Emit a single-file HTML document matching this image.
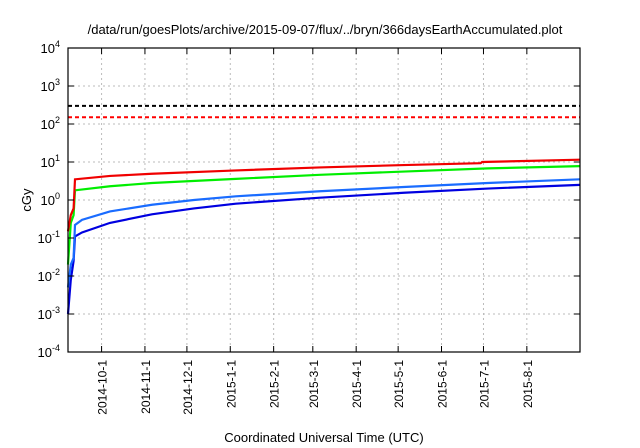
<!DOCTYPE html>
<html><head><meta charset="utf-8"><style>
body{margin:0;background:#fff;}
svg{display:block;font-family:"Liberation Sans",sans-serif;}
</style></head><body>
<svg id="chart" width="640" height="448">
<text x="325" y="34" text-anchor="middle" font-size="13">/data/run/goesPlots/archive/2015-09-07/flux/../bryn/366daysEarthAccumulated.plot</text>
<text transform="translate(31,200) rotate(-90)" text-anchor="middle" font-size="13">cGy</text>
<text x="324" y="442" text-anchor="middle" font-size="13">Coordinated Universal Time (UTC)</text>
<g id="grid"></g><g id="series"></g><g id="axes"></g>
</svg>
<script>
const monthLabels=["2014-10-1","2014-11-1","2014-12-1","2015-1-1","2015-2-1","2015-3-1","2015-4-1","2015-5-1","2015-6-1","2015-7-1","2015-8-1"];
const monthDays=[24,55,85,116,147,175,206,236,267,297,328];
const yExps=[-4,-3,-2,-1,0,1,2,3,4];
const redDays=[0,2,4,5,30,60,120,180,240,295,296,366];
const redVals=[0.15,0.4,0.6,3.5,4.3,4.9,6,7.2,8.3,9.3,10,11.5];
const greenDays=[0,2,4,5,30,60,120,180,240,300,366];
const greenVals=[0.02,0.25,0.4,1.8,2.3,2.8,3.6,4.6,5.6,6.8,7.8];
const lblueDays=[0,2,4,5,10,30,60,90,120,180,240,300,366];
const lblueVals=[0.005,0.02,0.03,0.22,0.3,0.5,0.75,1.0,1.25,1.7,2.2,2.8,3.5];
const dblueDays=[0,2,4,5,10,30,60,90,120,180,240,300,366];
const dblueVals=[0.001,0.008,0.025,0.11,0.14,0.25,0.42,0.6,0.8,1.15,1.55,2.0,2.5];
const thresholds=[300,150];
const L=68,R=580,T=48,B=352,NDAYS=366;
const xS=d=>L+(R-L)*d/NDAYS;
const yS=v=>200-38*Math.log10(v);
const NS="http://www.w3.org/2000/svg";
function mk(p,t,a){const e=document.createElementNS(NS,t);for(const k in a)e.setAttribute(k,a[k]);p.appendChild(e);return e;}
const grid=document.getElementById('grid'),ser=document.getElementById('series'),ax=document.getElementById('axes');
yExps.forEach(ex=>{const y=yS(Math.pow(10,ex));
 if(ex>-4&&ex<4){const g=mk(grid,'line',{x1:L,x2:R,y1:y,y2:y,stroke:'#bbb','stroke-dasharray':'2,3','stroke-width':1});
 
 }
 const t1=mk(ax,'line',{x1:L,x2:L+6,y1:y,y2:y,stroke:'#000'});
 const t2=mk(ax,'line',{x1:R-6,x2:R,y1:y,y2:y,stroke:'#000'});
 const tx=mk(ax,'text',{x:L-8,y:y+5,'text-anchor':'end','font-size':13});
 
 
 tx.innerHTML='10<tspan dy="-6" font-size="9">'+ex+'</tspan>';
});
monthDays.forEach((d,i)=>{const x=xS(d);
 const g=mk(grid,'line',{x1:x,x2:x,y1:T,y2:B,stroke:'#bbb','stroke-dasharray':'2,3'});
 
 
 mk(ax,'line',{x1:x,x2:x,y1:B,y2:B-6,stroke:'#000'});
 mk(ax,'line',{x1:x,x2:x,y1:T,y2:T+6,stroke:'#000'});
 const tx=mk(ax,'text',{transform:`translate(${x+5},${B+8}) rotate(-90)`,'text-anchor':'end','font-size':12});
 
 
 tx.textContent=monthLabels[i];
});
const tcol=['#000','#f00'];
thresholds.forEach((v,i)=>{const l=mk(ser,'line',{x1:L,x2:R,y1:yS(v),y2:yS(v),stroke:tcol[i],'stroke-width':2,'stroke-dasharray':'4,3'});
 
 });
function line(days,vals,col,name){const p=mk(ser,'polyline',{points:days.map((d,i)=>xS(d)+','+yS(vals[i])).join(' '),fill:'none',stroke:col,'stroke-width':2.2});
 
 }
line(dblueDays,dblueVals,'#0000e0','series-dark-blue');
line(lblueDays,lblueVals,'#1a6cff','series-light-blue');
line(greenDays,greenVals,'#00ee00','series-green');
line(redDays,redVals,'#f00000','series-red');
const fr=mk(ax,'rect',{x:L,y:T,width:R-L,height:B-T,fill:'none',stroke:'#000','stroke-width':1.2});


</script>
</body></html>
